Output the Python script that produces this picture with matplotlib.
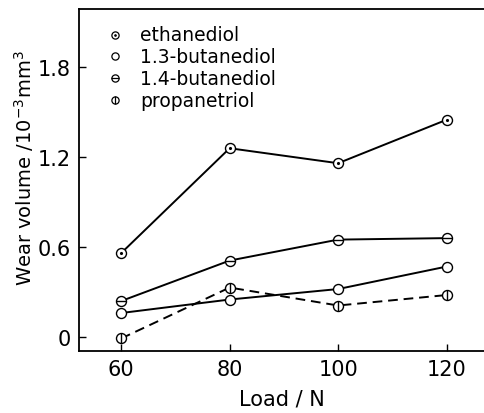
import matplotlib
matplotlib.use("Agg")
import matplotlib.pyplot as plt

# data
load = [60, 80, 100, 120]
ethanediol = [0.56, 1.26, 1.16, 1.45]
butanediol_13 = [0.16, 0.25, 0.32, 0.47]
butanediol_14 = [0.24, 0.51, 0.65, 0.66]
propanetriol = [-0.01, 0.33, 0.21, 0.28]

names = ["ethanediol", "1.3-butanediol", "1.4-butanediol", "propanetriol"]
inner = [".", None, "_", "|"]

plt.rcParams['font.family'] = ['DejaVu Sans']

fig = plt.figure(figsize=(4.84, 4.14), dpi=100)
ax = fig.add_axes([0.163, 0.150, 0.837, 0.826])

series = [ethanediol, butanediol_13, butanediol_14, propanetriol]
styles = ["-", "-", "-", "--"]
for vals, ls, mk in zip(series, styles, inner):
    ax.plot(load, vals, color="black", lw=1.4, ls=ls, dashes=(5, 3) if ls == "--" else (None, None),
            marker="o", ms=7.2, mfc="white", mec="black", mew=1.0, zorder=3)
    if mk is not None:
        ax.plot(load, vals, ls="none", marker=mk, ms=(2.5 if mk == "." else 7.2),
                color="black", mew=1.0, zorder=4)

# legend drawn by hand
for i, (name, mk) in enumerate(zip(names, inner)):
    y = 0.925 - i * 0.064
    ax.plot([0.088], [y], transform=ax.transAxes, ls="none", marker="o", ms=5.2,
            mfc="white", mec="black", mew=0.9, clip_on=False)
    if mk is not None:
        ax.plot([0.088], [y], transform=ax.transAxes, ls="none", marker=mk,
                ms=(2 if mk == "." else 5.2), color="black", mew=0.9, clip_on=False)
    ax.text(0.152, y, name, transform=ax.transAxes, fontsize=13.5, va="center", ha="left")

ax.set_xlim(52.2, 126.9)
ax.set_ylim(-0.093, 2.19)
ax.set_xticks(load)
ax.set_yticks([0, 0.6, 1.2, 1.8])
ax.set_yticklabels(["0", "0.6", "1.2", "1.8"])
ax.tick_params(direction="in", length=5, width=1, labelsize=15, pad=6)
ax.spines["right"].set_visible(False)
for s in ["left", "bottom", "top"]:
    ax.spines[s].set_linewidth(1.3)

ax.set_xlabel("Load / N", fontsize=15, labelpad=7)
ax.set_ylabel("Wear volume /10$^{-3}$mm$^3$", fontsize=14)
ax.yaxis.set_label_coords(-0.106, 0.538)

fig.savefig("out.png", dpi=100)
